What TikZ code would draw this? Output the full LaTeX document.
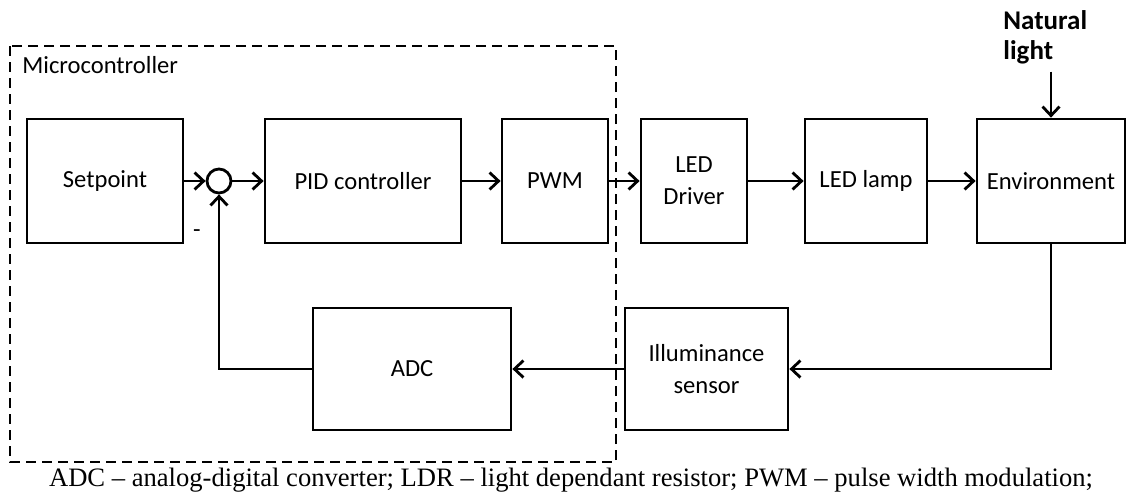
\documentclass[tikz,border=0pt]{standalone}
\usepackage{fontspec}
\setmainfont{Carlito}
\newfontfamily\capfont{Liberation Serif}
\usetikzlibrary{positioning,arrows.meta,calc}
\tikzset{
  box/.style={draw, line width=1.4pt, align=center, inner sep=2pt,
              font=\fontsize{12.3}{16}\selectfont},
  arr/.style={-{Straight Barb[length=4.5pt,width=8.5pt]}, line width=1.4pt},
  sumnode/.style={draw, circle, line width=1.4pt, minimum size=12pt, inner sep=0pt},
  mcu/.style={line width=1.4pt, dash pattern=on 5pt off 3pt},
}

\begin{document}
\begin{tikzpicture}[x=0.5pt,y=-0.5pt]
  \useasboundingbox (0,0) rectangle (1127,495);
  % microcontroller frame
  \draw[mcu] (10,46) rectangle (616,462);
  \node[anchor=base west, inner sep=0pt, font=\fontsize{12.3}{16}\selectfont] (mcutxt) at (22,73) {Microcontroller};
  % forward path
  \node[box, minimum width=78pt, minimum height=62pt] (setpoint) at (105,181) {Setpoint};
  \node[sumnode] (sum) at (219,181) {};
  \node[box, minimum width=98pt, minimum height=62pt] (pid) at (363,181) {PID controller};
  \node[box, minimum width=53pt, minimum height=62pt] (pwm) at (555,181) {PWM};
  \node[box, minimum width=53pt, minimum height=62pt] (driver) at (694,181) {LED\\Driver};
  \node[box, minimum width=61pt, minimum height=62pt] (lamp) at (866,181) {LED lamp};
  \node[box, minimum width=74pt, minimum height=62pt] (env) at (1051,181) {Environment};
  % feedback path
  \node[box, minimum width=81.5pt, minimum height=61pt] (sensor) at (706.5,369) {Illuminance\\sensor};
  \node[box, minimum width=99pt, minimum height=61pt] (adc) at (412,369) {ADC};
  % disturbance
  \node[anchor=north west, align=left, inner sep=0pt,
        font=\fontsize{13.5}{15}\selectfont\bfseries] (natural) at (1003,10) {Natural\\light};
  \node[font=\fontsize{12.3}{16}\selectfont] (minus) at (197,234) {-};
  % arrows
  \draw[arr] (setpoint) -- (sum); \draw[arr] (sum) -- (pid); \draw[arr] (pid) -- (pwm);
  \draw[arr] (pwm) -- (driver); \draw[arr] (driver) -- (lamp); \draw[arr] (lamp) -- (env);
  \draw[arr] ($(env.north)+(0,-46)$) -- (env.north);
  \draw[arr] (env.south) |- (sensor.east);
  \draw[arr] (sensor) -- (adc);
  \draw[arr] (adc.west) -| (sum.south);
  % legend
  \node[font=\capfont\fontsize{13.3}{15}\selectfont] (legend) at (571,480)
    {ADC – analog-digital converter; LDR – light dependant resistor; PWM – pulse width modulation;};
\end{tikzpicture}
\end{document}
